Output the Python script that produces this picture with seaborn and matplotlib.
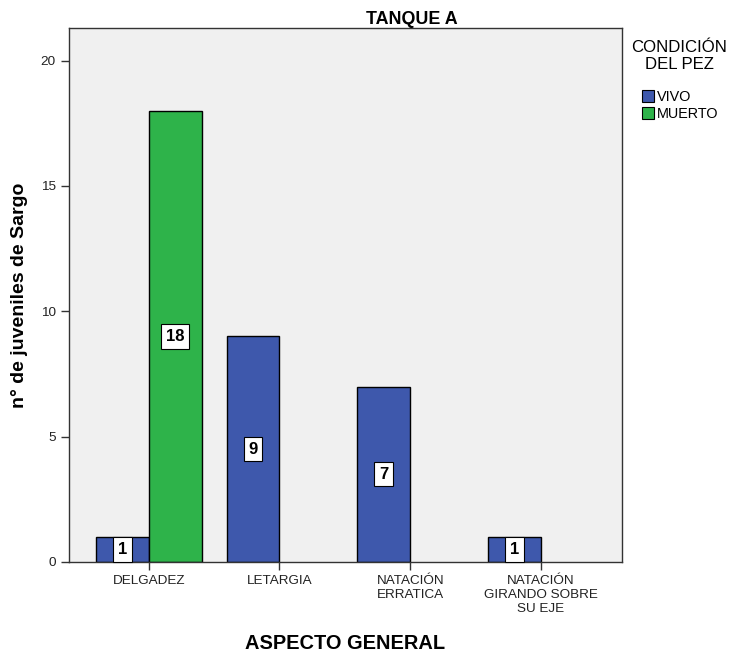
import pandas as pd
import matplotlib
matplotlib.use("Agg")
import matplotlib.pyplot as plt
import seaborn as sns

categorias = ['DELGADEZ', 'LETARGIA', 'NATACIÓN\nERRATICA', 'NATACIÓN\nGIRANDO SOBRE\nSU EJE']
condicion = ['VIVO', 'MUERTO', 'VIVO', 'VIVO', 'VIVO']
aspecto = ['DELGADEZ', 'DELGADEZ', 'LETARGIA', 'NATACIÓN\nERRATICA', 'NATACIÓN\nGIRANDO SOBRE\nSU EJE']
conteo = [1, 18, 9, 7, 1]
niveles = ['VIVO', 'MUERTO']
colores = {'VIVO': '#3E58AC', 'MUERTO': '#2EB34A'}

df = pd.DataFrame({'Aspecto': aspecto, 'Condicion': condicion, 'n': conteo})

sns.set_style("white")
plt.rcParams['font.family'] = ['Liberation Sans', 'DejaVu Sans']
plt.rcParams['text.color'] = 'black'

W, H = 731, 652
fig = plt.figure(figsize=(W / 100, H / 100), dpi=100)
ax = fig.add_axes([69 / W, 1 - 562 / H, 553 / W, 534 / H])
ax.set_facecolor('#F0F0F0')

sns.barplot(data=df, x='Aspecto', y='n', hue='Condicion', order=categorias,
            hue_order=niveles, palette=colores, saturation=1, width=0.81, dodge=True,
            edgecolor='black', linewidth=1, errorbar=None, ax=ax, legend=False)

# etiquetas de valor en el centro de cada barra
for cont in ax.containers:
    for barra in cont:
        h = barra.get_height()
        if h and h > 0:
            ax.text(barra.get_x() + barra.get_width() / 2, h / 2, f'{int(h)}',
                    ha='center', va='center', fontsize=12, fontweight='bold', color='black',
                    bbox=dict(boxstyle='square,pad=0.28', fc='white', ec='black', lw=0.8))

ax.set_xlim(-0.61, 3.62)
ax.set_ylim(0, 21.3)
ax.set_yticks([0, 5, 10, 15, 20])
ax.tick_params(axis='both', direction='out', length=6, width=1, color='#333333',
               labelsize=9.7, labelcolor='#222222', bottom=True, left=True)
for s in ax.spines.values():
    s.set_color('#333333')
    s.set_linewidth(1)

fig.text(412 / W, 1 - 20 / H, 'TANQUE A', ha='center', va='center',
         fontsize=12.9, fontweight='bold')
ax.set_ylabel('n° de juveniles de Sargo', fontsize=14, fontweight='bold', color='black')
ax.yaxis.set_label_coords((28 - 69) / 553, 0.5)
ax.set_xlabel('ASPECTO GENERAL', fontsize=14.4, fontweight='bold', color='black')
ax.xaxis.set_label_coords(0.5, (562 - 634) / 534)

# leyenda
fig.text(679.5 / W, 1 - 40 / H, 'CONDICIÓN\nDEL PEZ', ha='center', va='top',
         fontsize=12.1, linespacing=1.15, multialignment='center')
handles = [plt.Rectangle((0, 0), 1, 1, fc=colores[k], ec='black', lw=0.8) for k in niveles]
fig.legend(handles, niveles, loc='upper left', bbox_to_anchor=(642 / W, 1 - 90 / H),
           frameon=False, fontsize=10.4, handlelength=0.85, handleheight=0.85,
           handletextpad=0.2, labelspacing=0.22, borderpad=0, borderaxespad=0)

fig.savefig('out.png', dpi=100)
